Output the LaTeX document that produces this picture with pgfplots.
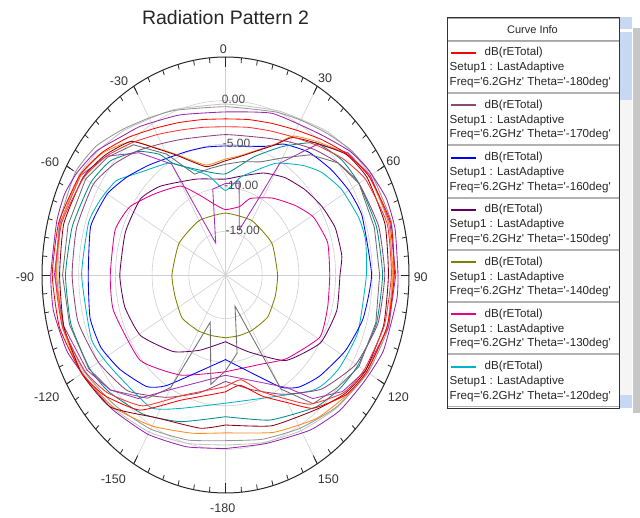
\documentclass[border=0pt]{standalone}
\usepackage{pgfplots}
\pgfplotsset{compat=1.18}
\usepackage{pgfplotstable}
\usepackage{fontspec}
\setmainfont{Liberation Sans}
\definecolor{cRed}{RGB}{255,0,0}
\definecolor{cRedB}{RGB}{255,50,50}
\definecolor{cMauve}{RGB}{140,70,120}
\definecolor{cBlue}{RGB}{0,0,255}
\definecolor{cDPurple}{RGB}{100,0,100}
\definecolor{cOlive}{RGB}{128,128,0}
\definecolor{cMagenta}{RGB}{228,0,140}
\definecolor{cCyan}{RGB}{0,180,200}
\definecolor{cTeal}{RGB}{0,140,140}
\definecolor{cMaroon}{RGB}{140,0,20}
\definecolor{cOrange}{RGB}{255,140,30}
\definecolor{cVGray}{RGB}{110,110,110}
\definecolor{cGray}{RGB}{150,150,150}
\definecolor{cLGray}{RGB}{195,195,195}
\definecolor{cViolet}{RGB}{150,40,170}
\definecolor{cViolet2}{RGB}{165,50,180}
\definecolor{gridc}{RGB}{208,208,208}
\definecolor{sbBlue}{RGB}{198,216,242}
\pgfplotsset{table/pol/.style={x expr={(\thisrow{db}+20)*sin(\thisrow{phi})},y expr={(\thisrow{db}+20)*cos(\thisrow{phi})}},
  cv/.style={line width=0.85pt,smooth,tension=0.3},
  cs/.style={line width=0.85pt}}
% ---------------- data (phi in deg, clockwise from top; value in dB) -------------
\pgfplotstableread[row sep=\\]{phi db\\ -180 -6.6\\ -170 -6.0\\ -157 -4.4\\ -143 -0.6\\ -130 1.5\\ -120 2.6\\ -105 3.4\\ -90 3.6\\ -75 3.5\\ -60 2.9\\ -50 1.9\\ -40 0.6\\ -30 -0.6\\ -20 -1.4\\ -10 -1.9\\ 0 -2.1\\ 10 -1.9\\ 20 -1.5\\ 30 -0.8\\ 40 0.3\\ 50 1.6\\ 60 2.6\\ 75 3.3\\ 90 3.0\\ 105 2.8\\ 120 2.2\\ 130 1.4\\ 142 -0.6\\ 150 -3.1\\ 160 -5.2\\ 171 -7.2\\ 180 -6.6\\}\tRedA
\pgfplotstableread[row sep=\\]{phi db\\ -180 -7.2\\ -170 -6.6\\ -157 -5.0\\ -143 -1.2\\ -130 1.0\\ -120 2.1\\ -105 3.0\\ -90 3.2\\ -75 3.1\\ -60 2.3\\ -50 1.2\\ -40 -0.2\\ -30 -1.4\\ -20 -2.3\\ -10 -2.8\\ 0 -3.0\\ 10 -2.8\\ 20 -2.4\\ 30 -1.7\\ 40 -0.6\\ 50 0.8\\ 60 2.0\\ 75 2.8\\ 90 2.6\\ 105 2.4\\ 120 1.8\\ 130 1.0\\ 142 -1.2\\ 150 -3.6\\ 160 -5.8\\ 170 -7.8\\ 180 -7.2\\}\tRedB
\pgfplotstableread[row sep=\\]{phi db\\ -180 -7.8\\ -165 -6.0\\ -150 -3.8\\ -135 -1.2\\ -120 0.0\\ -105 0.8\\ -90 0.9\\ -75 1.0\\ -60 0.8\\ -50 -0.2\\ -40 -1.4\\ -30 -2.6\\ -20 -3.4\\ 0 -3.9\\ 20 -3.3\\ 30 -2.4\\ 40 -1.2\\ 50 0.0\\ 60 1.0\\ 75 1.6\\ 90 1.7\\ 105 1.5\\ 120 0.5\\ 135 -1.5\\ 150 -4.2\\ 165 -6.4\\ 180 -7.8\\}\tMauve
\pgfplotstableread[row sep=\\]{phi db\\ -180 -10.3\\ -148 -5.1\\ -140 -3.3\\ -127 -2.0\\ -116 -1.1\\ -105 -0.9\\ -90 -1.3\\ -73 -0.8\\ -60 -1.4\\ -50 -2.5\\ -40 -3.6\\ -31 -4.4\\ -20 -4.9\\ -10 -5.1\\ 0 -5.2\\ 10 -5.0\\ 20 -4.3\\ 28 -3.0\\ 39 -1.9\\ 50 -1.2\\ 60 -0.6\\ 70 -0.2\\ 90 -0.1\\ 105 -0.6\\ 118 -1.5\\ 132 -2.7\\ 142 -3.7\\ 150 -5.2\\ 180 -10.3\\}\tBlue
\pgfplotstableread[row sep=\\]{phi db\\ -180 -12.35\\ -158 -10.7\\ -141 -8.7\\ -121 -6.5\\ -105 -5.8\\ -90 -5.6\\ -70 -5.5\\ -53 -5.5\\ -41 -6.5\\ -20 -8.3\\ 0 -9.0\\ 10 -8.5\\ 24 -7.2\\ 36 -6.2\\ 48 -5.4\\ 59 -4.7\\ 70 -4.1\\ 82 -4.0\\ 90 -4.4\\ 105 -4.3\\ 121 -4.9\\ 140 -7.2\\ 160 -10.6\\ 180 -12.35\\}\tDPurple
\pgfplotstableread[row sep=\\]{phi db\\ -180 -12.8\\ -165 -12.8\\ -150 -12.6\\ -130 -12.3\\ -110 -12.7\\ -90 -12.7\\ -60 -12.7\\ -30 -12.8\\ 0 -12.9\\ 30 -12.8\\ 60 -12.7\\ 90 -12.9\\ 110 -12.8\\ 130 -12.5\\ 150 -12.7\\ 165 -12.8\\ 180 -12.8\\}\tOlive
\pgfplotstableread[row sep=\\]{phi db\\ -180 -8.9\\ -152 -7.0\\ -130 -4.8\\ -105 -4.2\\ -90 -4.3\\ -71 -4.1\\ -59 -4.8\\ -46 -6.6\\ -31 -8.1\\ -21 -10.2\\ -10 -11.8\\ 0 -12.5\\ 14 -11.9\\ 21 -10.6\\ 36 -9.1\\ 50 -7.6\\ 61 -6.3\\ 75 -5.6\\ 90 -5.8\\ 105 -5.6\\ 119 -5.3\\ 139 -7.3\\ 155 -8.7\\ 180 -8.9\\}\tMagenta
\pgfplotstableread[row sep=\\]{phi db\\ -180 -5.3\\ -158 -3.5\\ -146 -1.7\\ -124 -1.1\\ -112 -0.3\\ -90 -0.4\\ -72 -0.4\\ -63 -0.9\\ -54 -1.6\\ -45 -3.4\\ -32 -4.9\\ -28 -5.6\\ -12 -8.3\\ 0 -10.3\\ 11 -8.5\\ 28 -5.5\\ 40 -3.6\\ 48 -2.4\\ 58 -1.4\\ 70 -0.7\\ 78 -0.5\\ 90 -0.8\\ 110 -0.8\\ 125 -1.2\\ 138 -2.2\\ 180 -5.3\\}\tCyan
\pgfplotstableread[row sep=\\]{phi db\\ -180 -3.75\\ -160 -2.1\\ -145 -0.5\\ -130 0.8\\ -120 1.4\\ -105 1.8\\ -90 1.8\\ -75 1.6\\ -60 1.2\\ -50 0.4\\ -40 -1.5\\ -33 -3.5\\ -29 -5.4\\ -15 -7.6\\ 0 -8.4\\ 16 -5.9\\ 28 -3.3\\ 39 -0.5\\ 50 0.6\\ 60 1.0\\ 75 1.3\\ 90 1.4\\ 105 1.3\\ 120 0.8\\ 130 0.3\\ 141 -0.5\\ 160 -2.3\\ 180 -3.75\\}\tTeal
\pgfplotstableread[row sep=\\]{phi db\\ -180 -2.8\\ -169 -2.1\\ -150 -1.1\\ -134 1.8\\ -120 2.6\\ -105 2.8\\ -90 2.6\\ -75 2.8\\ -60 2.4\\ -50 1.4\\ -40 0.0\\ -33 -2.7\\ -26 -4.7\\ -12 -7.3\\ 0 -6.9\\ 8 -6.3\\ 24 -3.7\\ 30 -1.8\\ 39 -0.5\\ 50 1.5\\ 60 2.3\\ 75 2.5\\ 90 2.2\\ 105 2.3\\ 120 2.0\\ 130 1.2\\ 141 -0.2\\ 160 -1.6\\ 180 -2.8\\}\tMaroon
\pgfplotstableread[row sep=\\]{phi db\\ -180 -1.9\\ -166 -1.3\\ -150 0.0\\ -135 1.5\\ -120 2.6\\ -105 3.0\\ -90 3.0\\ -75 3.2\\ -60 2.8\\ -50 1.8\\ -40 0.0\\ -33 -2.6\\ -26 -4.6\\ -12 -7.1\\ 0 -6.7\\ 8 -6.2\\ 24 -3.6\\ 30 -1.6\\ 39 -0.3\\ 50 1.6\\ 60 2.6\\ 75 3.0\\ 90 2.8\\ 105 2.8\\ 120 2.2\\ 130 1.5\\ 143 0.6\\ 160 -0.8\\ 180 -1.9\\}\tOrange
\pgfplotstableread[row sep=\\]{phi db\\ -180 -9.0\\ -171 -7.3\\ -159 -14.2\\ -150 -5.1\\ -143 -2.3\\ -130 0.5\\ -120 1.5\\ -105 2.0\\ -90 2.2\\ -75 2.2\\ -60 2.0\\ -50 1.0\\ -40 -0.5\\ -30 -4.0\\ -20 -7.7\\ -10 -7.6\\ 0 -7.3\\ 10 -6.8\\ 20 -6.2\\ 30 -4.5\\ 40 -2.0\\ 50 0.0\\ 60 1.0\\ 75 1.0\\ 90 1.0\\ 105 1.2\\ 120 1.0\\ 130 0.0\\ 141 -1.0\\ 150 -4.9\\ 160 -16.2\\ 170 -10.9\\ 180 -9.0\\}\tVGray
\pgfplotstableread[row sep=\\]{phi db\\ -180 -1.0\\ -165 -0.4\\ -150 0.4\\ -135 1.2\\ -120 2.2\\ -105 2.9\\ -90 3.0\\ -75 3.4\\ -60 3.6\\ -50 3.0\\ -40 1.8\\ -30 0.8\\ -20 0.1\\ 0 -0.7\\ 20 -0.1\\ 30 0.5\\ 40 1.3\\ 50 2.3\\ 60 3.0\\ 75 3.4\\ 90 2.9\\ 105 3.0\\ 120 2.4\\ 135 1.4\\ 150 0.3\\ 165 -0.5\\ 180 -1.0\\}\tGray
\pgfplotstableread[row sep=\\]{phi db\\ -180 -0.5\\ -165 0.0\\ -150 0.8\\ -135 1.6\\ -120 2.4\\ -105 2.9\\ -90 2.8\\ -75 3.2\\ -60 3.0\\ -50 2.4\\ -40 1.6\\ -30 0.7\\ -20 0.2\\ 0 -0.4\\ 20 0.1\\ 30 0.6\\ 40 1.5\\ 50 2.2\\ 60 2.8\\ 75 3.0\\ 90 2.7\\ 105 2.8\\ 120 2.3\\ 135 1.5\\ 150 0.6\\ 165 -0.1\\ 180 -0.5\\}\tLGray
\pgfplotstableread[row sep=\\]{phi db\\ -180 -0.1\\ -165 0.4\\ -150 1.1\\ -135 1.8\\ -122 2.4\\ -112 3.3\\ -100 3.8\\ -90 3.8\\ -75 3.8\\ -67 3.8\\ -60 3.4\\ -51 2.6\\ -41 1.2\\ -34 0.6\\ -19 -0.6\\ 0 -1.3\\ 19 -0.4\\ 38 0.6\\ 50 2.1\\ 58 2.9\\ 68 3.6\\ 77 3.7\\ 90 3.5\\ 97 3.5\\ 112 3.2\\ 123 2.5\\ 135 2.0\\ 147 1.2\\ 164 0.1\\ 180 -0.1\\}\tViolet
\pgfplotstableread[row sep=\\]{phi db\\ -180 -8.5\\ -150 -4.8\\ -140 -1.5\\ -130 0.5\\ -120 1.8\\ -105 2.8\\ -90 3.3\\ -75 3.3\\ -60 2.8\\ -50 1.2\\ -40 -1.7\\ -30 -5.3\\ -20 -16.1\\ -10 -10.0\\ 0 -9.5\\ 10 -9.3\\ 20 -14.5\\ 27 -10.4\\ 30 -5.2\\ 40 -0.4\\ 50 1.8\\ 60 2.8\\ 75 3.2\\ 90 3.2\\ 105 3.0\\ 120 2.0\\ 130 0.8\\ 140 -1.5\\ 147 -4.6\\ 180 -8.5\\}\tVioletS
\begin{document}
\begin{tikzpicture}
% ---------- polar grid (x unit 7.34pt, y unit 8.72pt, center of the axis) ----------
\begin{scope}[shift={(183.5pt,218pt)},x=7.34pt,y=8.72pt]
 \foreach \r in {5,10,15,20}{
   \draw[gridc,line width=0.6pt] plot[domain=0:360,samples=121,variable=\t] ({\r*sin(\t)},{\r*cos(\t)}) -- cycle;}
 \foreach \a in {0,30,...,330}{
   \draw[gridc,line width=0.6pt] (0,0) -- ({25*sin(\a)},{25*cos(\a)});}
\end{scope}
\begin{axis}[at={(0pt,0pt)},anchor=south west,scale only axis,width=367pt,height=436pt,
  xmin=-25,xmax=25,ymin=-25,ymax=25,hide axis,clip=false]
 \addplot[cLGray,cv] table[pol]{\tLGray};
 \addplot[cGray,cv] table[pol]{\tGray};
 \addplot[cViolet,cv] table[pol]{\tViolet};
 \addplot[cOlive,cv] table[pol]{\tOlive};
 \addplot[cDPurple,cv] table[pol]{\tDPurple};
 \addplot[cMagenta,cv] table[pol]{\tMagenta};
 \addplot[cCyan,cv] table[pol]{\tCyan};
 \addplot[cBlue,cv] table[pol]{\tBlue};
 \addplot[cTeal,cv] table[pol]{\tTeal};
 \addplot[cMauve,cv] table[pol]{\tMauve};
 \addplot[cVGray,cs] table[pol]{\tVGray};
 \addplot[cViolet2,cs] table[pol]{\tVioletS};
 \addplot[cOrange,cv] table[pol]{\tOrange};
 \addplot[cMaroon,cv] table[pol]{\tMaroon};
 \addplot[cRedB,cv] table[pol]{\tRedB};
 \addplot[cRed,cv] table[pol]{\tRedA};
\end{axis}
% ---------- outer ring and ticks ----------
\begin{scope}[shift={(183.5pt,218pt)},x=7.34pt,y=8.72pt]
 \draw[black!85,line width=1pt] plot[domain=0:360,samples=181,variable=\t] ({25*sin(\t)},{25*cos(\t)}) -- cycle;
 \foreach \a in {0,5,...,355}{
   \draw[black!85,line width=0.8pt] ({25*sin(\a)},{25*cos(\a)}) -- ({24.4*sin(\a)},{24.4*cos(\a)});}
 \foreach \a in {0,30,...,330}{
   \draw[black!85,line width=0.8pt] ({25*sin(\a)},{25*cos(\a)}) -- ({23.9*sin(\a)},{23.9*cos(\a)});}
\end{scope}
% ---------- texts in image pixel coordinates ----------
\begin{scope}[shift={(-42pt,493pt)},x=1pt,y=-1pt]
 \node[inner sep=0,text=black!85] at (225.5,18) {\fontsize{19.5}{22}\selectfont Radiation Pattern 2};
 \begin{scope}[every node/.style={inner sep=0,text=black!80,font=\fontsize{12.5}{14}\selectfont}]
  \node at (223.3,49.3) {0};
  \node at (325,78.3) {30};
  \node at (119,81.7) {-30};
  \node at (393.3,161.7) {60};
  \node at (50,162.3) {-60};
  \node at (420.7,276.7) {90};
  \node at (25,276.7) {-90};
  \node at (398.3,396.7) {120};
  \node at (46.7,396.7) {-120};
  \node at (328.3,479.3) {150};
  \node at (113.3,479.3) {-150};
  \node at (222.7,508.3) {-180};
 \end{scope}
 \begin{scope}[every node/.style={inner sep=0,anchor=west,text=black!70,font=\fontsize{12}{14}\selectfont}]
  \node at (221.7,99.3) {0.00};
  \node at (222.7,143.3) {-5.00};
  \node at (224,185.7) {-10.00};
  \node at (225.5,230) {-15.00};
 \end{scope}
 % ---------- legend panel ----------
 \fill[black!22] (633,28) rectangle (640,413);
 \fill[white] (447,17.5) rectangle (619,408.5);
 \fill[sbBlue] (620,17) rectangle (632,29.5);
 \fill[sbBlue] (620,32) rectangle (632,100);
 \fill[black!4] (620,100) rectangle (632,395);
 \fill[sbBlue] (620,395.5) rectangle (632,408);
 \draw[black!35,line width=0.6pt] (447,18) rectangle (619,40);
 \node[inner sep=0,font=\fontsize{11}{13}\selectfont,text=black!85] at (532.5,29.5) {Curve Info};
 \foreach \i/\c/\t in {0/cRed/180,1/cMauve/170,2/cBlue/160,3/cDPurple/150,4/cOlive/140,5/cMagenta/130,6/cCyan/120}{
   \pgfmathsetmacro{\T}{41+52.3*\i}
   \draw[black!30,line width=0.6pt] (447,\T) rectangle (619,\T+51.3);
   \draw[\c,line width=2pt] (451,\T+12) -- (476,\T+12);
   \node[inner sep=0,anchor=west,font=\fontsize{11.6}{13}\selectfont,text=black!85] at (484.5,\T+12) {dB(rETotal)};
   \node[inner sep=0,anchor=west,font=\fontsize{11.6}{13}\selectfont,text=black!85] at (449.5,\T+27) {Setup1 : LastAdaptive};
   \node[inner sep=0,anchor=west,font=\fontsize{11.6}{13}\selectfont,text=black!85] at (449.5,\T+41.5) {Freq=\textquotesingle6.2GHz\textquotesingle{} Theta=\textquotesingle-\t deg\textquotesingle};
 }
 \draw[black!80,line width=0.8pt] (447,17.5) -- (619,17.5) -- (619,408.5) -- (447,408.5) -- cycle;
\end{scope}
\pgfresetboundingbox
\useasboundingbox (-42pt,-24pt) rectangle (598pt,493pt);
\end{tikzpicture}
\end{document}
